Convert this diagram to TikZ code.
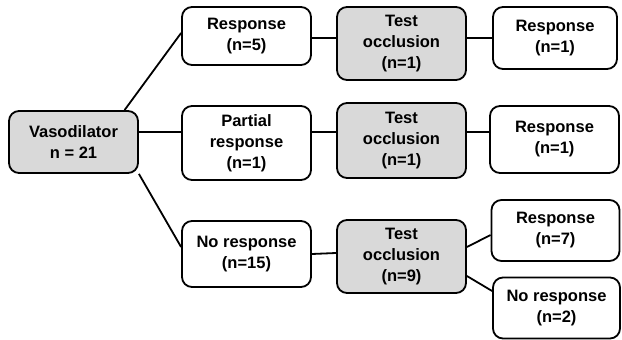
\documentclass[tikz,border=0pt]{standalone}
\usepackage{fontspec}
\setmainfont{Liberation Sans}
\begin{document}
\begin{tikzpicture}[x=1pt,y=-1pt,
  box/.style={draw=black, line width=1.8pt, rounded corners=10pt, fill=white, align=center,
    inner sep=0pt, font=\bfseries\fontsize{16.5}{21}\selectfont},
  gbox/.style={box, fill=black!15},
  conn/.style={line width=1.8pt}]
\useasboundingbox (0,0) rectangle (622,340);
\node[gbox, minimum width=129pt, minimum height=62pt] (vaso) at (73.5,142) {Vasodilator\\n = 21};
\node[box, minimum width=129pt, minimum height=58pt] (r1) at (246.5,36) {Response\\(n=5)};
\node[box, minimum width=129pt, minimum height=74pt] (pr) at (246.5,143) {Partial\\response\\(n=1)};
\node[box, minimum width=129pt, minimum height=66pt] (nr) at (246.5,254) {No response\\(n=15)};
\node[gbox, minimum width=129pt, minimum height=73pt] (to1) at (401.5,43.5) {Test\\occlusion\\(n=1)};
\node[gbox, minimum width=129pt, minimum height=75pt] (to2) at (401.5,140.5) {Test\\occlusion\\(n=1)};
\node[gbox, minimum width=129pt, minimum height=73pt] (to3) at (401.5,256.5) {Test\\occlusion\\(n=9)};
\node[box, minimum width=124pt, minimum height=62pt] (rt1) at (555,38) {Response\\(n=1)};
\node[box, minimum width=129pt, minimum height=67pt] (rm) at (554.5,139.5) {Response\\(n=1)};
\node[box, minimum width=128pt, minimum height=61pt] (r7) at (555.5,230.5) {Response\\(n=7)};
\node[box, minimum width=127pt, minimum height=61pt] (nr2) at (556.5,308) {No response\\(n=2)};
% connectors
\draw[conn] (vaso.32) -- ([yshift=3pt]r1.west);
\draw[conn] ([yshift=10pt]vaso.east) -- ([yshift=11pt]pr.west);
\draw[conn] (vaso.-26) -- ([yshift=7pt]nr.west);
\draw[conn] ([yshift=-2pt]r1.east) -- ([yshift=5.5pt]to1.west);
\draw[conn] ([yshift=5.5pt]to1.east) -- (rt1.west);
\draw[conn] ([yshift=11pt]pr.east) -- ([yshift=8.5pt]to2.west);
\draw[conn] ([yshift=8.5pt]to2.east) -- ([yshift=7.5pt]rm.west);
\draw[conn] (nr.east) -- ([yshift=3.5pt]to3.west);
\draw[conn] ([yshift=9.5pt]to3.east) -- ([yshift=-4.5pt]r7.west);
\draw[conn] ([yshift=-19.5pt]to3.east) -- ([yshift=17pt]nr2.west);
\end{tikzpicture}
\end{document}
